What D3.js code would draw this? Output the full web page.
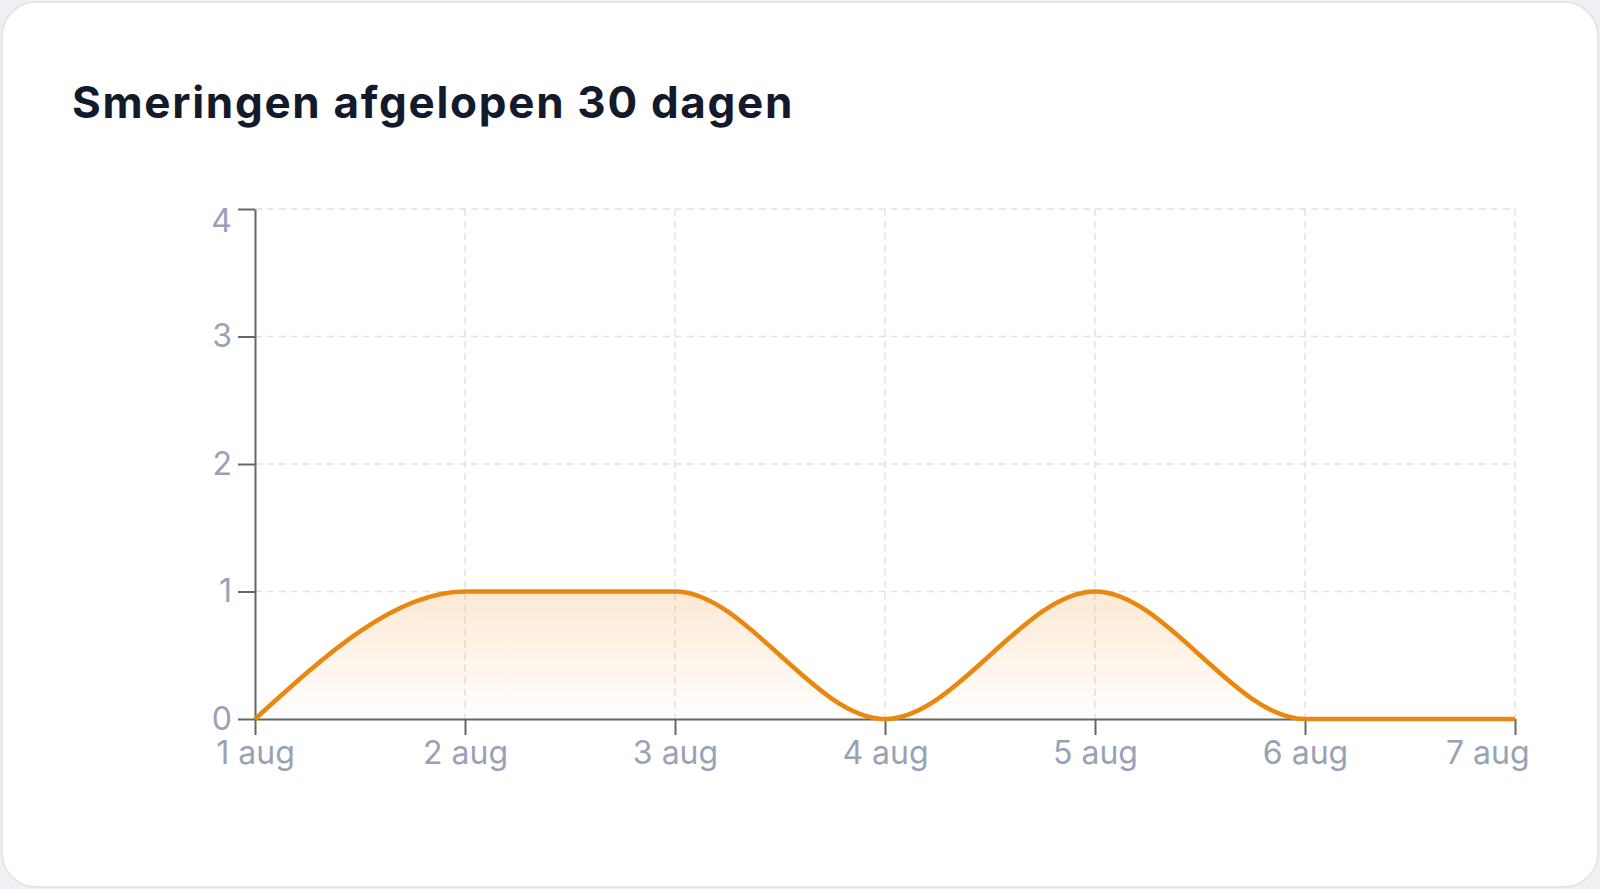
<!DOCTYPE html>
<html>
<head>
<meta charset="utf-8">
<script src="https://cdn.jsdelivr.net/npm/d3@7"></script>
<style>
  html, body { margin: 0; padding: 0; background: #eef0f4; }
  svg { display: block; }
</style>
</head>
<body>
<svg id="chart" width="1600" height="889"></svg>
<script>
// smeringen per dag
var days = ["1 aug", "2 aug", "3 aug", "4 aug", "5 aug", "6 aug", "7 aug"];
var counts = [0, 1, 1, 0, 1, 0, 0];
var yTicks = [0, 1, 2, 3, 4];

var W = 1600, H = 889;
var margin = { left: 255, right: 85, top: 209, bottom: 170 };

var svg = d3.select("#chart");

// card
svg.append("rect")
  .attr("x", 2).attr("y", 2)
  .attr("width", 1596).attr("height", 885)
  .attr("rx", 34)
  .attr("fill", "#fff")
  .attr("stroke", "#e3e5ea")
  .attr("stroke-width", 2);

svg.append("text")
  .attr("x", 72)
  .attr("y", 118)
  .attr("font-family", "Inter, 'Noto Sans', sans-serif")
  .attr("font-weight", 700)
  .attr("font-size", 44)
  .attr("letter-spacing", 1.7)
  .attr("fill", "#131a2b")
  .text("Smeringen afgelopen 30 dagen");

var x = d3.scalePoint().domain(days).range([margin.left, W - margin.right]);
var y = d3.scaleLinear().domain([0, 4]).range([H - margin.bottom, margin.top]);

var defs = svg.append("defs");
var grad = defs.append("linearGradient")
  .attr("id", "fillGrad")
  .attr("gradientUnits", "userSpaceOnUse")
  .attr("x1", 0).attr("x2", 0)
  .attr("y1", y(1)).attr("y2", y(0));
grad.append("stop").attr("offset", "0%").attr("stop-color", "#f39a3a").attr("stop-opacity", 0.22);
grad.append("stop").attr("offset", "100%").attr("stop-color", "#f39a3a").attr("stop-opacity", 0.01);

// grid
var grid = svg.append("g");
grid.selectAll("line.h")
  .data(yTicks.slice(1))
  .enter().append("line")
  .attr("x1", x.range()[0]).attr("x2", x.range()[1])
  .attr("y1", d => y(d)).attr("y2", d => y(d))
  .attr("stroke", "#e2e2e4").attr("stroke-width", 1.5)
  .attr("stroke-dasharray", "7 5");
grid.selectAll("line.v")
  .data(days.slice(1))
  .enter().append("line")
  .attr("x1", d => x(d)).attr("x2", d => x(d))
  .attr("y1", y(4)).attr("y2", y(0))
  .attr("stroke", "#e2e2e4").attr("stroke-width", 1.5)
  .attr("stroke-dasharray", "7 5");

var pts = days.map((d, i) => ({ day: d, v: counts[i] }));

svg.append("path")
  .datum(pts)
  .attr("fill", "url(#fillGrad)")
  .attr("d", d3.area().curve(d3.curveMonotoneX)
    .x(d => x(d.day)).y0(y(0)).y1(d => y(d.v)));

// axes
var axisFont = "Inter, 'Noto Sans', sans-serif";

var gx = svg.append("g")
  .attr("transform", `translate(0,${y(0)})`)
  .call(d3.axisBottom(x).tickSize(16).tickPadding(5).tickSizeOuter(0));
var gy = svg.append("g")
  .attr("transform", `translate(${x.range()[0]},0)`)
  .call(d3.axisLeft(y).tickValues(yTicks).tickFormat(d3.format("d"))
    .tickSize(17).tickPadding(6).tickSizeOuter(0));

[gx, gy].forEach(g => {
  g.select(".domain").attr("stroke", "#666").attr("stroke-width", 2);
  g.selectAll(".tick line").attr("stroke", "#666").attr("stroke-width", 2);
  g.selectAll(".tick text")
    .attr("fill", "#98a2b6")
    .attr("font-family", axisFont)
    .attr("font-size", 32);
});
gx.selectAll(".tick text").attr("dy", "0.75em");
// last label kept inside the plot
gx.selectAll(".tick text").filter(d => d === days[days.length - 1])
  .attr("text-anchor", "end").attr("dx", 14);
gy.selectAll(".tick text").filter(d => d === 4).attr("dy", "0.7em");

svg.append("path")
  .datum(pts)
  .attr("fill", "none")
  .attr("stroke", "#ea870e")
  .attr("stroke-width", 4.5)
  .attr("stroke-linejoin", "round")
  .attr("d", d3.line().curve(d3.curveMonotoneX)
    .x(d => x(d.day)).y(d => y(d.v)));
</script>
</body>
</html>
